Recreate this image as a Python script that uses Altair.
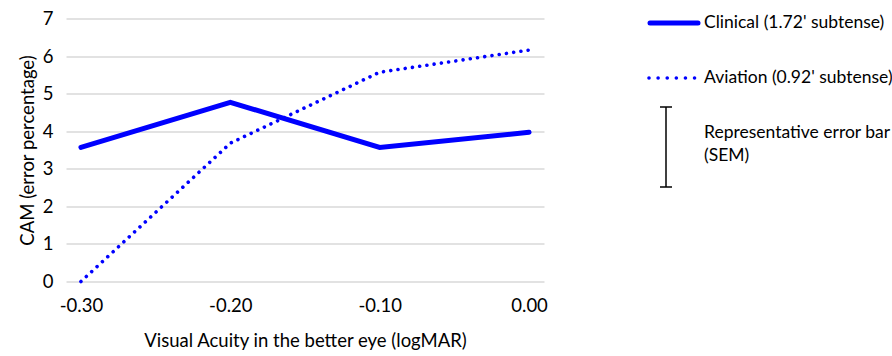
import altair as alt
import pandas as pd

# ---- data ----
visual_acuity = [-0.30, -0.20, -0.10, 0.00]
clinical = [3.57, 4.77, 3.57, 3.97]
aviation = [0.00, 3.68, 5.57, 6.16]
series_names = ["Clinical (1.72' subtense)", "Aviation (0.92' subtense)"]
errbar_label = ["Representative error bar", "(SEM)"]
x_ticks = [-0.30, -0.20, -0.10, 0.00]
y_ticks = [0, 1, 2, 3, 4, 5, 6, 7]

FONT = "Lato"
BLUE = "#0000FF"
W, H = 478, 263
AX_FS = 18.5
LEG_FS = 17.5

df_c = pd.DataFrame({"va": visual_acuity, "cam": clinical})
df_a = pd.DataFrame({"va": visual_acuity, "cam": aviation})
one = pd.DataFrame({"k": [0]})

xscale = alt.Scale(domain=[-0.31, 0.01], nice=False, zero=False)
yscale = alt.Scale(domain=[0, 7], nice=False)

xaxis = alt.Axis(
    values=x_ticks, grid=False, domain=False, ticks=False, labelOverlap=False,
    labelExpr="datum.value < -0.001 ? '-' + format(-datum.value, '.2f') : format(abs(datum.value), '.2f')",
    labelFont=FONT, labelFontSize=AX_FS, labelColor="#000000", labelPadding=15,
    title="Visual Acuity in the better eye (logMAR)", titleFont=FONT, titleFontSize=AX_FS,
    titleFontWeight="normal", titleColor="#000000", titleX=W / 2, titleY=59,
    titleBaseline="middle", titleAnchor="middle",
)
yaxis = alt.Axis(
    values=y_ticks, tickCount=8, grid=True, gridColor="#d9d9d9", gridWidth=1.5, domain=False, ticks=False,
    labelOverlap=False,
    labelFont=FONT, labelFontSize=AX_FS, labelColor="#000000", labelPadding=13,
    title="CAM (error percentage)", titleFont=FONT, titleFontSize=AX_FS,
    titleFontWeight="normal", titleColor="#000000", titleX=-39, titleY=H / 2,
    titleBaseline="middle", titleAngle=-90, titleAnchor="middle",
)

line_c = alt.Chart(df_c).mark_line(color=BLUE, strokeWidth=5, strokeCap="round", strokeJoin="miter").encode(
    x=alt.X("va:Q", scale=xscale, axis=xaxis),
    y=alt.Y("cam:Q", scale=yscale, axis=yaxis),
)
line_a = alt.Chart(df_a).mark_line(color=BLUE, strokeWidth=3.6, strokeCap="round", strokeDash=[0.01, 7.3]).encode(
    x=alt.X("va:Q", scale=xscale, axis=xaxis),
    y=alt.Y("cam:Q", scale=yscale, axis=yaxis),
)

# ---- custom legend (outside plot area) ----
def label(txt, y):
    return alt.Chart(one).mark_text(align="left", baseline="middle", font=FONT, fontSize=LEG_FS,
                                    color="#000000").encode(
        x=alt.value(638), y=alt.value(y), text=alt.value(txt))

leg_c = alt.Chart(one).mark_rule(color=BLUE, strokeWidth=5, strokeCap="round").encode(
    x=alt.value(584), x2=alt.value(632), y=alt.value(4.5))
leg_a = alt.Chart(one).mark_rule(color=BLUE, strokeWidth=3.6, strokeCap="round", strokeDash=[0.01, 9.1]).encode(
    x=alt.value(583), x2=alt.value(630), y=alt.value(59.5))
eb_v = alt.Chart(one).mark_rule(color="#000000", strokeWidth=1.5).encode(
    x=alt.value(600), y=alt.value(88.5), y2=alt.value(168.5))
eb_t = alt.Chart(one).mark_rule(color="#000000", strokeWidth=1.5).encode(
    x=alt.value(594), x2=alt.value(606), y=alt.value(88.5))
eb_b = alt.Chart(one).mark_rule(color="#000000", strokeWidth=1.5).encode(
    x=alt.value(594), x2=alt.value(606), y=alt.value(168.5))

chart = alt.layer(
    line_c, line_a, leg_c, leg_a,
    label(series_names[0], 4.5), label(series_names[1], 59.5),
    eb_v, eb_t, eb_b,
    label(errbar_label[0], 114.5), label(errbar_label[1], 137.5),
).properties(
    width=W, height=H,
    autosize=alt.AutoSizeParams(type="none"),
    padding={"left": 66, "top": 18.5, "right": 892 - 66 - W, "bottom": 356 - 18.5 - H},
    background="white",
).configure_view(stroke=None)

chart.save("out.html", embed_options={"renderer": "svg", "actions": False})
